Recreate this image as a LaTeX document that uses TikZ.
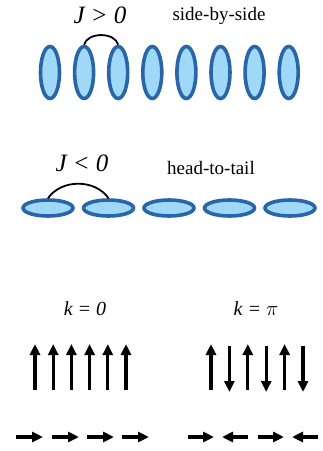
\documentclass[tikz,border=0pt]{standalone}
\usepackage{fontspec}
\setmainfont{Liberation Serif}
\usetikzlibrary{arrows.meta,shapes.geometric}
\definecolor{moltfill}{RGB}{160,216,248}
\definecolor{moltedge}{RGB}{40,102,168}
\tikzset{
  stand/.style={draw=moltedge, fill=moltfill, ellipse, line width=3.6pt, inner sep=0pt, minimum width=19pt, minimum height=52pt},
  lying/.style={draw=moltedge, fill=moltfill, ellipse, line width=3.6pt, inner sep=0pt, minimum width=50pt, minimum height=16pt},
  coupling/.style={line width=1.8pt},
  jlabel/.style={font=\fontsize{25}{28}\selectfont\itshape},
  kind/.style={font=\fontsize{19}{22}\selectfont},
  klabel/.style={font=\fontsize{20}{24}\selectfont\itshape},
  spin/.style={line width=3.2pt, -{Triangle[length=11pt,width=10pt]}}
}
\begin{document}
\begin{tikzpicture}[x=1pt,y=-1pt]
  \useasboundingbox (0,0) rectangle (323,451);
  \node[jlabel] (jpos) at (100,15) {J > 0};
  \node[kind] (sbs) at (219,16) {side-by-side};
  \foreach \i in {1,...,8} {\node[stand] (t\i) at (50+34.1*\i-34.1,72.5) {};}
  \draw[coupling] (t2.north) to[bend left=75] (t3.north);
  \node[jlabel] (jneg) at (82,163) {J < 0};
  \node[kind] (htt) at (211,168) {head-to-tail};
  \foreach \i in {1,...,5} {\node[lying] (h\i) at (48+60.5*\i-60.5,208) {};}
  \draw[coupling] (h1.north) to[bend left=55] (h2.north);
  \node[klabel] (kzero) at (85,309) {k = 0};
  \node[klabel] (kpi) at (256,309) {k = $\pi$};
  \foreach \i in {0,...,5} {\draw[spin] (35+18.2*\i,390) -- (35+18.2*\i,344);}
  \foreach \i in {0,2,4} {\draw[spin] (211+18.4*\i,390) -- (211+18.4*\i,344);}
  \foreach \i in {1,3,5} {\draw[spin] (211+18.4*\i,346) -- (211+18.4*\i,392);}
  \foreach \x in {16,52,87,122} {\draw[spin] (\x,437) -- (\x+27,437);}
  \foreach \x in {188,258} {\draw[spin] (\x,437) -- (\x+26,437);}
  \foreach \x in {318,248} {\draw[spin] (\x,437) -- (\x-26,437);}
\end{tikzpicture}
\end{document}
